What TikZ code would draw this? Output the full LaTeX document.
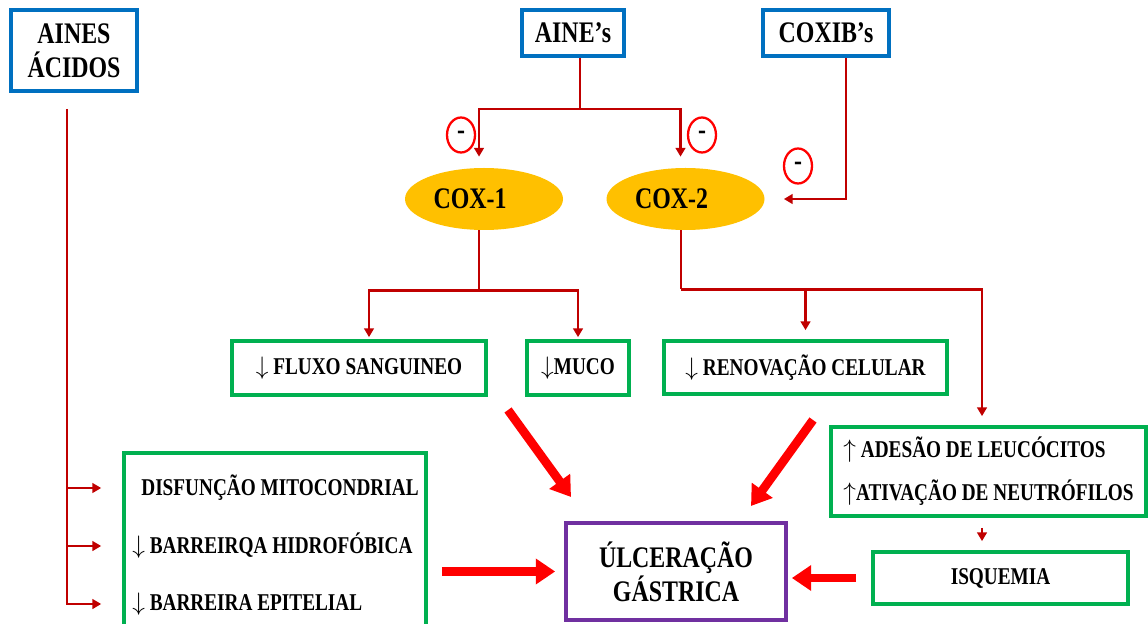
\documentclass[tikz,border=0pt]{standalone}
\usepackage{fontspec}
\setmainfont{Liberation Serif}[FakeStretch=0.8]
\usetikzlibrary{shapes.geometric}
\usetikzlibrary{arrows,arrows.meta}
\usetikzlibrary{calc}
\definecolor{caixaazul}{RGB}{0,112,192}
\definecolor{caixaverde}{RGB}{0,176,80}
\definecolor{roxo}{RGB}{112,48,160}
\definecolor{ouro}{RGB}{255,192,0}
\definecolor{vinho}{RGB}{192,0,0}
\definecolor{vermelho}{RGB}{255,0,0}
\newlength{\pix}
\setlength{\pix}{0.02cm}
\newcommand{\grande}{\bfseries\fontsize{17}{19.5}\selectfont}
\newcommand{\pequeno}{\bfseries\fontsize{13.7}{24.4}\selectfont}

\begin{document}
\begin{tikzpicture}[x=0.02cm, y=-0.02cm,
    azul/.style={draw=caixaazul, line width=2.1pt, inner sep=0pt, font=\grande},
    verde/.style={draw=caixaverde, line width=2.1pt, inner sep=0pt, font=\pequeno},
    cox/.style={ellipse, fill=ouro, inner sep=0pt, minimum width=158*\pix, minimum height=62*\pix, font=\grande},
    menos/.style={ellipse, draw=vermelho, line width=1.3pt, inner sep=0pt, minimum width=28*\pix, minimum height=35*\pix, font=\grande},
    liga/.style={vinho, line width=1.4pt, -{Triangle[length=5pt,width=5.5pt]}},
    seta/.style={vermelho, line width=5pt, -{Triangle[length=11pt,width=14pt]}}]

    \useasboundingbox (0,0) rectangle (1148,624);

    \node[azul, minimum width=126*\pix, minimum height=81*\pix, align=center] (aines) at (74,50.5) {AINES\\ÁCIDOS};
    \node[azul, minimum width=102*\pix, minimum height=46*\pix] (aine) at (573,33) {AINE’s};
    \node[azul, minimum width=126*\pix, minimum height=46*\pix] (coxib) at (826,33) {COXIB’s};

    \node[cox] (cox1) at (484,199) {COX-1\hspace*{28\pix}};
    \node[cox] (cox2) at (685.5,199) {COX-2\hspace*{28\pix}};
    \node[menos] (m1) at (461,135) {-};
    \node[menos] (m2) at (702,135) {-};
    \node[menos] (m3) at (798,166) {-};

    \node[verde, minimum width=254*\pix, minimum height=54*\pix] (fluxo) at (359,368) {$\downarrow$ FLUXO SANGUINEO};
    \node[verde, minimum width=102*\pix, minimum height=54*\pix] (muco) at (578,368) {$\downarrow$MUCO};
    \node[verde, minimum width=283*\pix, minimum height=53*\pix] (renov) at (805.5,367.5) {$\downarrow$ RENOVAÇÃO CELULAR};
    \node[verde, minimum width=315*\pix, minimum height=89*\pix, align=left] (adesao) at (988.5,471.5) {$\uparrow$ ADESÃO DE LEUCÓCITOS\\$\uparrow$ATIVAÇÃO DE NEUTRÓFILOS};
    \node[verde, minimum width=255*\pix, minimum height=52*\pix] (isq) at (1000.5,578) {ISQUEMIA};

    \node[verde, minimum width=302*\pix, minimum height=187*\pix] (mec) at (275,546.5) {};
    \node[anchor=west, inner sep=0pt, font=\pequeno] (d1) at (141,488) {DISFUNÇÃO MITOCONDRIAL};
    \node[anchor=west, inner sep=0pt, font=\pequeno] (d2) at (132,546) {$\downarrow$ BARREIRQA HIDROFÓBICA};
    \node[anchor=west, inner sep=0pt, font=\pequeno] (d3) at (132,604) {$\downarrow$ BARREIRA EPITELIAL};

    \node[draw=roxo, line width=2.1pt, inner sep=0pt, minimum width=220*\pix, minimum height=97*\pix, align=center, font=\grande] (ulcera) at (676,571.5) {ÚLCERAÇÃO\\GÁSTRICA};

    % AINE's
    \draw[liga, -] ([xshift=0.14cm]aine.south) -- ++(0,51) coordinate (j1);
    \draw[liga, shorten >=0.22cm] (j1) -| ([xshift=-0.1cm]cox1.north);
    \draw[liga, shorten >=0.22cm] (j1) -| ([xshift=-0.1cm]cox2.north);
    % COXIB's
    \draw[liga, shorten >=0.38cm] ([xshift=0.4cm]coxib.south) |- (cox2.east);
    % COX-1
    \draw[liga, -] ([xshift=-0.1cm]cox1.south) -- ++(0,60) coordinate (j2);
    \draw[liga, shorten >=0.04cm] (j2) -| ([xshift=0.2cm]fluxo.north);
    \draw[liga, shorten >=0.04cm] (j2) -| (muco.north);
    % COX-2
    \draw[liga, -] ([xshift=-0.09cm]cox2.south) -- ++(0,59) coordinate (j3);
    \draw[liga, shorten >=0.18cm] (j3) -| ([xshift=-0.13cm]adesao.north);
    \draw[liga, shorten >=0.18cm] (j3 -| renov.north) -- (renov.north);
    \coordinate (q) at ([xshift=-0.13cm]adesao.south);
    \draw[liga, shorten <=0.2cm, shorten >=0.18cm] (q) -- (q |- isq.north);

    % AINES ACIDOS
    \coordinate (t0) at ([xshift=-0.14cm, yshift=-0.32cm]aines.south);
    \draw[liga, shorten >=0.42cm] (t0) |- (mec.west |- d3);
    \foreach \d in {d1,d2}
        \draw[liga, shorten >=0.42cm] (t0 |- \d) -- (mec.west |- \d);

    % setas grandes
    \coordinate (s1) at (508,410);
    \coordinate (e1) at (571,497);
    \coordinate (s2) at (813,420);
    \coordinate (e2) at (751,506);
    \draw[seta] (s1) -- (e1);
    \draw[seta] (s2) -- (e2);
    \draw[seta, shorten <=0.28cm, shorten >=0.18cm] (mec.east |- ulcera.west) -- (ulcera.west);
    \draw[seta, shorten <=0.3cm, shorten >=0.08cm] (isq.west) -- (isq.west -| ulcera.east);

\end{tikzpicture}
\end{document}
